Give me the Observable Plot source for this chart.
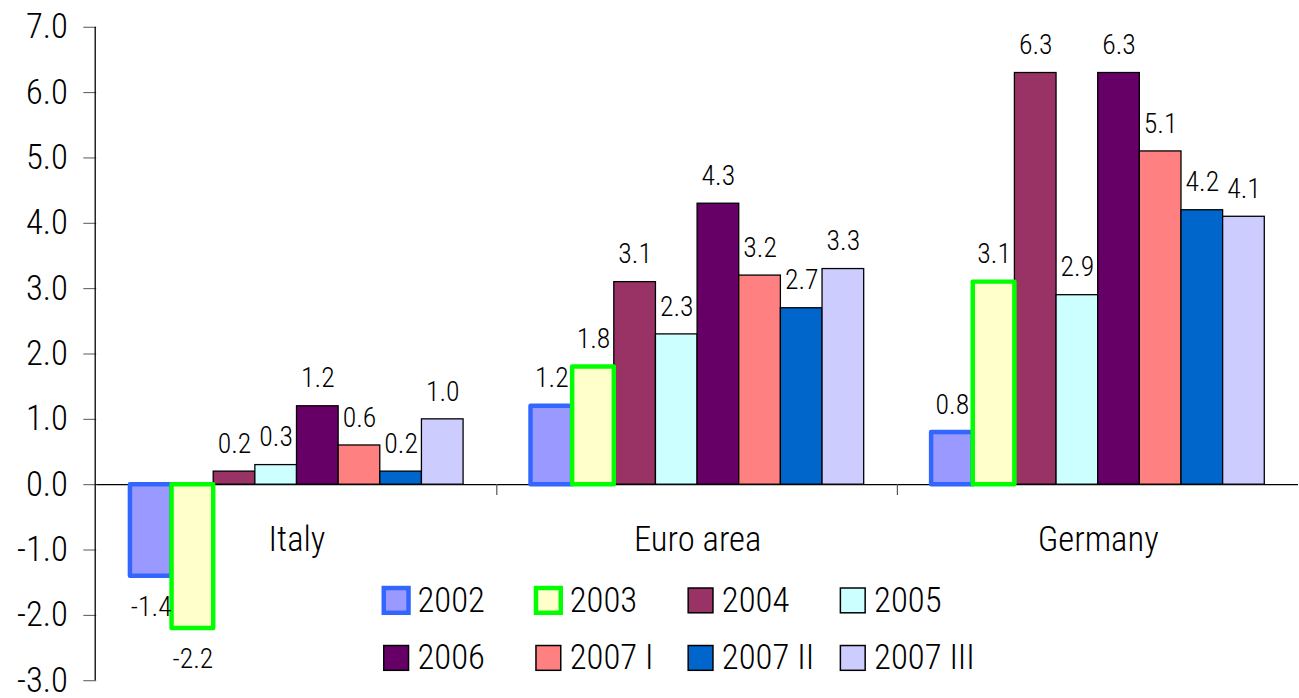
<!DOCTYPE html>
<html>
<head>
<meta charset="utf-8">
<script src="https://cdn.jsdelivr.net/npm/d3@7"></script>
<script src="https://cdn.jsdelivr.net/npm/@observablehq/plot@0.6"></script>
<style>
  html, body { margin: 0; padding: 0; background: #fff; overflow: hidden; }
  #wrap { position: relative; width: 1299px; height: 698px; overflow: hidden; }
  #wrap svg { font-stretch: condensed; font-weight: 350; }
</style>
</head>
<body>
<div id="wrap"></div>
<script>
// ---- data ----
const countries = ["Italy", "Euro area", "Germany"];
const seriesNames = ["2002", "2003", "2004", "2005", "2006", "2007 I", "2007 II", "2007 III"];
const italy    = [-1.4, -2.2, 0.2, 0.3, 1.2, 0.6, 0.2, 1.0];
const euroArea = [ 1.2,  1.8, 3.1, 2.3, 4.3, 3.2, 2.7, 3.3];
const germany  = [ 0.8,  3.1, 6.3, 2.9, 6.3, 5.1, 4.2, 4.1];
const yTicks = [-3, -2, -1, 0, 1, 2, 3, 4, 5, 6, 7];

// ---- styles ----
const seriesFill   = ["#9999ff", "#ffffcc", "#993366", "#ccffff", "#660066", "#ff8080", "#0066cc", "#ccccff"];
const seriesStroke = ["#3366ff", "#00ff00", "#000000", "#000000", "#000000", "#000000", "#000000", "#000000"];
const seriesStrokeWidth = [4.5, 4.5, 1.3, 1.3, 1.3, 1.3, 1.3, 1.3];
const FONT = 'Roboto, "DejaVu Sans Condensed", sans-serif';

const valuesBy = {"Italy": italy, "Euro area": euroArea, "Germany": germany};
const table = countries.flatMap(c => seriesNames.map((s, i) => ({
  country: c, series: s, value: valuesBy[c][i],
  fill: seriesFill[i], stroke: seriesStroke[i], sw: seriesStrokeWidth[i], heavy: i < 2
})));

const chart = Plot.plot({
  width: 1310,
  height: 698,
  marginLeft: 96,
  marginRight: 0,
  marginTop: 27,
  marginBottom: 12,
  style: {fontFamily: FONT, background: "white", color: "#000", overflow: "visible"},
  fx: {domain: countries, padding: 0, axis: null, label: null},
  x: {domain: seriesNames, paddingInner: 0, paddingOuter: 0.72, axis: null, label: null},
  y: {domain: [-3, 7], axis: null, label: null},
  color: {type: "identity"},
  marks: [
    Plot.axisY({
      ticks: yTicks, tickFormat: d => d.toFixed(1), tickSize: 13, tickPadding: 16,
      fontSize: 35, stroke: "#555", fill: "#000", label: null
    }),
    Plot.ruleY([0], {stroke: "#000", strokeWidth: 1.3}),
    Plot.barY(table, {
      filter: d => !d.heavy,
      fx: "country", x: "series", y: "value",
      fill: "fill", stroke: "stroke", strokeWidth: "sw", inset: 0
    }),
    Plot.barY(table, {
      filter: d => d.heavy,
      fx: "country", x: "series", y: "value",
      fill: "fill", stroke: "stroke", strokeWidth: "sw", inset: 0, strokeLinejoin: "round"
    }),
    Plot.text(table, {
      filter: d => d.value >= 0,
      fx: "country", x: "series", y: "value",
      text: d => d.value.toFixed(1), lineAnchor: "bottom", dy: -19,
      fontSize: 28, fill: "#000"
    }),
    Plot.text(table, {
      filter: d => d.value < 0,
      fx: "country", x: "series", y: "value",
      text: d => d.value.toFixed(1), lineAnchor: "top", dy: 20,
      fontSize: 28, fill: "#000"
    }),
    Plot.text(countries, {
      fx: d => d, y: d => 0, text: d => d,
      lineAnchor: "bottom", dy: 67, fontSize: 35, fill: "#000"
    })
  ]
});

// ---- axis line and group separators derived from the scales ----
const svg = d3.select(chart);
const yS = chart.scale("y");
const fxS = chart.scale("fx");
const y0 = yS.apply(0);
const [yMin, yMax] = yS.domain;
svg.append("line")
  .attr("x1", fxS.range[0]).attr("x2", fxS.range[0])
  .attr("y1", yS.apply(yMax)).attr("y2", yS.apply(yMin))
  .attr("stroke", "#000").attr("stroke-width", 1.3);
countries.slice(0, -1).forEach(c => {
  const xb = fxS.apply(c) + fxS.bandwidth;
  svg.append("line")
    .attr("x1", xb).attr("x2", xb)
    .attr("y1", y0).attr("y2", y0 + 11)
    .attr("stroke", "#555").attr("stroke-width", 1.2);
});

// ---- legend ----
const legendCols = [387, 540.5, 694, 847.5];
const legendRows = [593, 651];
const lg = svg.append("g")
  .attr("font-family", FONT).attr("font-size", 35).attr("fill", "#000")
  .attr("text-anchor", "start");
seriesNames.forEach((s, i) => {
  const left = legendCols[i % 4];
  const top = legendRows[Math.floor(i / 4)];
  lg.append("rect")
    .attr("x", left).attr("y", top).attr("width", 25).attr("height", 25)
    .attr("fill", seriesFill[i]).attr("stroke", seriesStroke[i])
    .attr("stroke-width", i < 2 ? 4.5 : 1.5);
  lg.append("text")
    .attr("x", left + 34).attr("y", top + 24)
    .text(s);
});

document.getElementById("wrap").appendChild(chart);
</script>
</body>
</html>
